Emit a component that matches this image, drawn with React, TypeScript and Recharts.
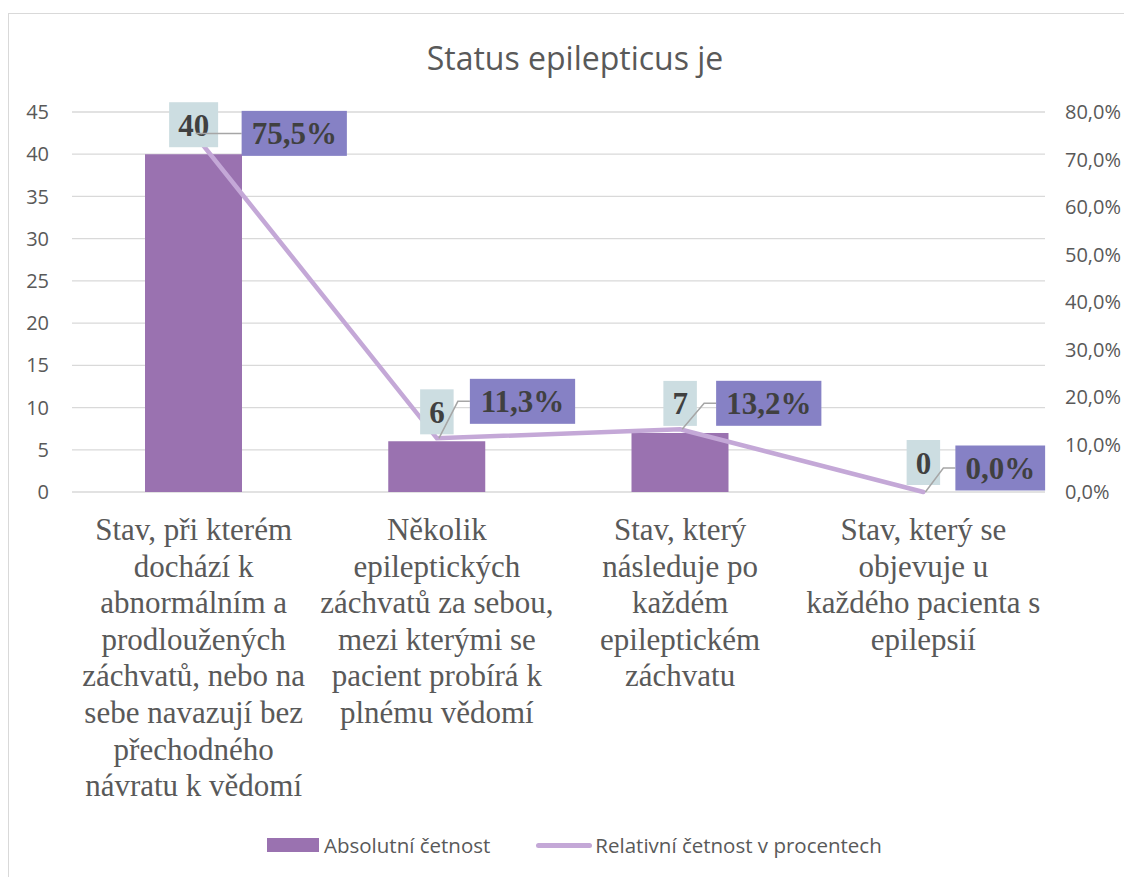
import React from "react";
import { ComposedChart, Bar, Line, XAxis, YAxis, CartesianGrid, Legend, LabelList } from "recharts";

// category labels, already broken into the lines shown under each column
const categoryLines = [
  ["Stav, při kterém", "dochází k", "abnormálním a", "prodloužených", "záchvatů, nebo na", "sebe navazují bez", "přechodného", "návratu k vědomí"],
  ["Několik", "epileptických", "záchvatů za sebou,", "mezi kterými se", "pacient probírá k", "plnému vědomí"],
  ["Stav, který", "následuje po", "každém", "epileptickém", "záchvatu"],
  ["Stav, který se", "objevuje u", "každého pacienta s", "epilepsií"],
];
const absoluteCounts = [40, 6, 7, 0];
const relativePercents = [75.5, 11.3, 13.2, 0.0];
const leftTicks = [0, 5, 10, 15, 20, 25, 30, 35, 40, 45];
const rightTicks = [0, 10, 20, 30, 40, 50, 60, 70, 80];

const data = categoryLines.map((lines, i) => ({
  name: lines.join(" "),
  count: absoluteCounts[i],
  percent: relativePercents[i],
}));

// manual placement of the percent callouts, relative to the line point
const pctLabelOffsets = [
  { dx: 48, dy: 0 },
  { dx: 33, dy: -37 },
  { dx: 36, dy: -26 },
  { dx: 32, dy: -24 },
];

const BAR_COLOR = "#9a72b0";
const LINE_COLOR = "#c4a8d7";
const GRID_COLOR = "#d9d9d9";
const AXIS_TEXT = "#595959";
const LABEL_TEXT = "#404040";
const SANS = "'Open Sans', 'Liberation Sans', sans-serif";
const SERIF = "'Liberation Serif', 'Times New Roman', serif";

const fmtPct = (v: number) => v.toFixed(1).replace(".", ",") + "%";

const charW = (ch: string) => (ch === "," ? 7.75 : ch === "%" ? 31 : 15.5);
const textW = (s: string) => s.split("").reduce((sum, ch) => sum + charW(ch), 0);

function CategoryTick({ x, y, payload }: any) {
  const lines = categoryLines[payload.index] ?? [String(payload.value)];
  return (
    <text x={x} y={y} textAnchor="middle" fontFamily={SERIF} fontSize={31} fill={AXIS_TEXT}>
      {lines.map((l, i) => (
        <tspan key={i} x={x} dy={i === 0 ? 48 : 36.6}>
          {l}
        </tspan>
      ))}
    </text>
  );
}

function CountLabel({ x, y, value }: any) {
  const s = String(value);
  const w = textW(s) + 18;
  const h = 45;
  const top = y - 7 - h;
  return (
    <g>
      <rect x={x - w / 2} y={top} width={w} height={h} fill="#ccdde1" />
      <text x={x} y={top + h / 2 + 11} textAnchor="middle" fontFamily={SERIF} fontWeight="bold" fontSize={31} fill={LABEL_TEXT}>
        {s}
      </text>
    </g>
  );
}

function PercentLabel({ x, y, value, index }: any) {
  const off = pctLabelOffsets[index] ?? { dx: 30, dy: -30 };
  const s = fmtPct(Number(value));
  const w = textW(s) + 20;
  const h = 45;
  const left = x + off.dx;
  const cy = y + off.dy;
  return (
    <g>
      <path d={`M${x + 2},${y} L${left - 12},${cy} L${left},${cy}`} stroke="#a6a6a6" strokeWidth={1.5} fill="none" />
      <rect x={left} y={cy - h / 2} width={w} height={h} fill="#8681c5" />
      <text x={left + w / 2} y={cy + 11} textAnchor="middle" fontFamily={SERIF} fontWeight="bold" fontSize={31} fill={LABEL_TEXT}>
        {s}
      </text>
    </g>
  );
}

function LegendContent() {
  return (
    <div style={{ display: "flex", alignItems: "center", height: 40, paddingLeft: 258, fontFamily: SANS, fontSize: 20.5, color: AXIS_TEXT }}>
      <span style={{ display: "inline-block", width: 52, height: 14, background: BAR_COLOR, marginRight: 5 }} />
      <span>Absolutní četnost</span>
      <span style={{ display: "inline-block", width: 56, height: 5, borderRadius: 3, background: LINE_COLOR, marginLeft: 46, marginRight: 3 }} />
      <span>Relativní četnost v procentech</span>
    </div>
  );
}

export default function App() {
  return (
    <div
      style={{
        position: "relative",
        top: 5,
        width: 1180,
        height: 900,
        borderTop: `1px solid ${GRID_COLOR}`,
        borderLeft: `1px solid ${GRID_COLOR}`,
        background: "#fff",
      }}
    >
      <style>{"html, body { overflow: hidden; }"}</style>
      <div
        style={{
          position: "absolute",
          top: 24,
          left: 0,
          width: 1124,
          paddingLeft: 8,
          boxSizing: "border-box",
          textAlign: "center",
          fontFamily: SANS,
          fontSize: 32,
          lineHeight: "40px",
          color: AXIS_TEXT,
        }}
      >
        Status epilepticus je
      </div>
      <ComposedChart width={1124} height={864} data={data} margin={{ top: 98, right: 0, bottom: 13, left: 0 }}>
        <CartesianGrid yAxisId="left" vertical={false} stroke={GRID_COLOR} strokeWidth={1.3} />
        <XAxis
          dataKey="name"
          interval={0}
          tick={<CategoryTick />}
          tickLine={false}
          axisLine={false}
          tickSize={0}
          tickMargin={0}
          height={333}
        />
        <YAxis
          yAxisId="left"
          domain={[0, 45]}
          ticks={leftTicks}
          width={63}
          tickLine={false}
          axisLine={false}
          tickSize={0}
          tickMargin={23}
          tick={{ fill: AXIS_TEXT, fontSize: 20, fontFamily: SANS }}
        />
        <YAxis
          yAxisId="right"
          orientation="right"
          domain={[0, 80]}
          ticks={rightTicks}
          width={88}
          tickLine={false}
          axisLine={false}
          tickSize={0}
          tickMargin={20}
          tickFormatter={fmtPct}
          tick={{ fill: AXIS_TEXT, fontSize: 20, fontFamily: SANS, textAnchor: "start" }}
        />
        <Legend verticalAlign="bottom" height={40} content={<LegendContent />} />
        <Bar yAxisId="left" dataKey="count" name="Absolutní četnost" fill={BAR_COLOR} barSize={97} isAnimationActive={false} />
        <Line
          yAxisId="right"
          dataKey="percent"
          name="Relativní četnost v procentech"
          type="linear"
          stroke={LINE_COLOR}
          strokeWidth={4.5}
          strokeLinecap="round"
          dot={false}
          activeDot={false}
          isAnimationActive={false}
        />
        <Line yAxisId="left" dataKey="count" stroke="none" dot={false} activeDot={false} legendType="none" isAnimationActive={false}>
          <LabelList dataKey="count" content={<CountLabel />} />
        </Line>
        <Line yAxisId="right" dataKey="percent" stroke="none" dot={false} activeDot={false} legendType="none" isAnimationActive={false}>
          <LabelList dataKey="percent" content={<PercentLabel />} />
        </Line>
      </ComposedChart>
    </div>
  );
}
